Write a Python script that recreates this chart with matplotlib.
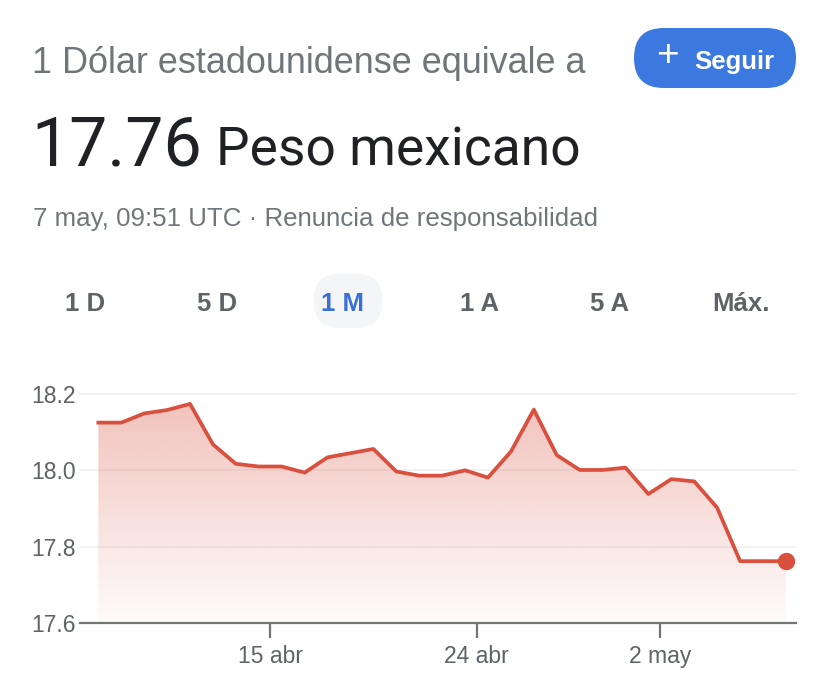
import numpy as np
import pandas as pd
import matplotlib
matplotlib.use('Agg')
import matplotlib.pyplot as plt
import matplotlib.dates as mdates
from matplotlib.patches import FancyBboxPatch

# Daily USD -> MXN rate, one month
dates = pd.date_range('2023-04-07 12:00', periods=31, freq='D')
rates = [18.125, 18.125, 18.149, 18.158, 18.174, 18.068, 18.017, 18.010,
         18.010, 17.994, 18.034, 18.045, 18.056, 17.997, 17.986, 17.986,
         18.000, 17.981, 18.049, 18.159, 18.040, 18.001, 18.001, 18.007,
         17.938, 17.977, 17.971, 17.902, 17.762, 17.762, 17.762]
tick_dates = pd.to_datetime(['2023-04-15', '2023-04-24', '2023-05-02'])
tick_labels = ['15 abr', '24 abr', '2 may']
y_ticks = [17.6, 17.8, 18.0, 18.2]
ranges = ['1 D', '5 D', '1 M', '1 A', '5 A', 'Máx.']

W, H = 828, 687
RED = '#d9503f'
GREY = '#70757a'

plt.rcParams['font.family'] = ['Liberation Sans', 'DejaVu Sans']

fig = plt.figure(figsize=(W / 100, H / 100), dpi=100)


def px(x, y):
    return x / W, 1 - y / H


# Header
fig.text(*px(32, 73), '1 Dólar estadounidense equivale a', fontsize=25.9,
         color=GREY, va='baseline', ha='left')
fig.text(*px(31, 165), '17.76', fontsize=49, color='#202124', va='baseline', ha='left',
         family='Roboto')
fig.text(*px(216, 165), 'Peso mexicano', fontsize=38.4, color='#202124', va='baseline',
         ha='left', family='Roboto')
fig.text(*px(33, 226), '7 may, 09:51 UTC · Renuncia de responsabilidad', fontsize=18.6,
         color=GREY, va='baseline', ha='left')

# Follow button
btn = FancyBboxPatch(px(634, 88), 162 / W, 60 / H,
                     boxstyle='round,pad=0,rounding_size=0.036',
                     transform=fig.transFigure, facecolor='#3b78e0', edgecolor='none',
                     mutation_aspect=W / H)
fig.patches.append(btn)
fig.text(*px(667, 56), '+', fontsize=28, color='white', va='center', ha='center')
fig.text(*px(734, 69), 'Seguir', fontsize=18.5, color='white', va='baseline', ha='center',
         fontweight='bold')

# Range selector
sel = FancyBboxPatch(px(314, 328), 68 / W, 54 / H,
                     boxstyle='round,pad=0,rounding_size=0.03',
                     transform=fig.transFigure, facecolor='#f4f5f6', edgecolor='none',
                     mutation_aspect=W / H)
fig.patches.append(sel)
range_x = [85, 217, 343, 480, 610, 741]
for label, x in zip(ranges, range_x):
    color = '#3a6fd8' if label == '1 M' else '#5f6368'
    fig.text(*px(x, 311), label, fontsize=18.5, color=color, va='baseline', ha='center',
             fontweight='bold')

# Chart
ax = fig.add_axes([80 / W, (H - 623) / H, 716 / W, (623 - 394) / H])
xnum = mdates.date2num(dates)
step = xnum[1] - xnum[0]
ax.set_xlim(xnum[0] - 0.8 * step, xnum[-1] + 0.44 * step)
ax.set_ylim(17.6, 18.2)

# gradient fill below the line
grad = np.zeros((200, 1, 4))
grad[..., :3] = matplotlib.colors.to_rgb(RED)
grad[:, 0, 3] = np.linspace(0.36, 0.02, 200)
img = ax.imshow(grad, extent=[xnum[0], xnum[-1], 17.6, 18.2], aspect='auto',
                origin='upper', zorder=1)
poly = ax.fill_between(xnum, rates, 17.6, facecolor='none', edgecolor='none')
img.set_clip_path(poly.get_paths()[0], transform=ax.transData)

ax.plot(xnum, rates, color=RED, lw=2.7, zorder=3)
ax.plot(xnum[-1], rates[-1], 'o', color=RED, ms=11.5, zorder=4, clip_on=False)

ax.set_yticks(y_ticks)
ax.set_yticklabels([f'{v:.1f}' for v in y_ticks])
ax.set_xticks(mdates.date2num(tick_dates))
ax.set_xticklabels(tick_labels)
for v in y_ticks[1:]:
    ax.axhline(v, color='#f0f0f0', lw=1.2, zorder=0, clip_on=False)

for s in ['top', 'right', 'left']:
    ax.spines[s].set_visible(False)
ax.spines['bottom'].set_color('#757575')
ax.spines['bottom'].set_linewidth(1.6)
ax.tick_params(axis='y', length=0, pad=3, labelsize=16.5, labelcolor='#5f6368')
ax.tick_params(axis='x', length=11, width=1.6, color='#757575', pad=5,
               labelsize=16.5, labelcolor='#5f6368')
for lbl in ax.get_yticklabels():
    lbl.set_verticalalignment('center_baseline')

fig.savefig('out.png', dpi=100, facecolor='white')
